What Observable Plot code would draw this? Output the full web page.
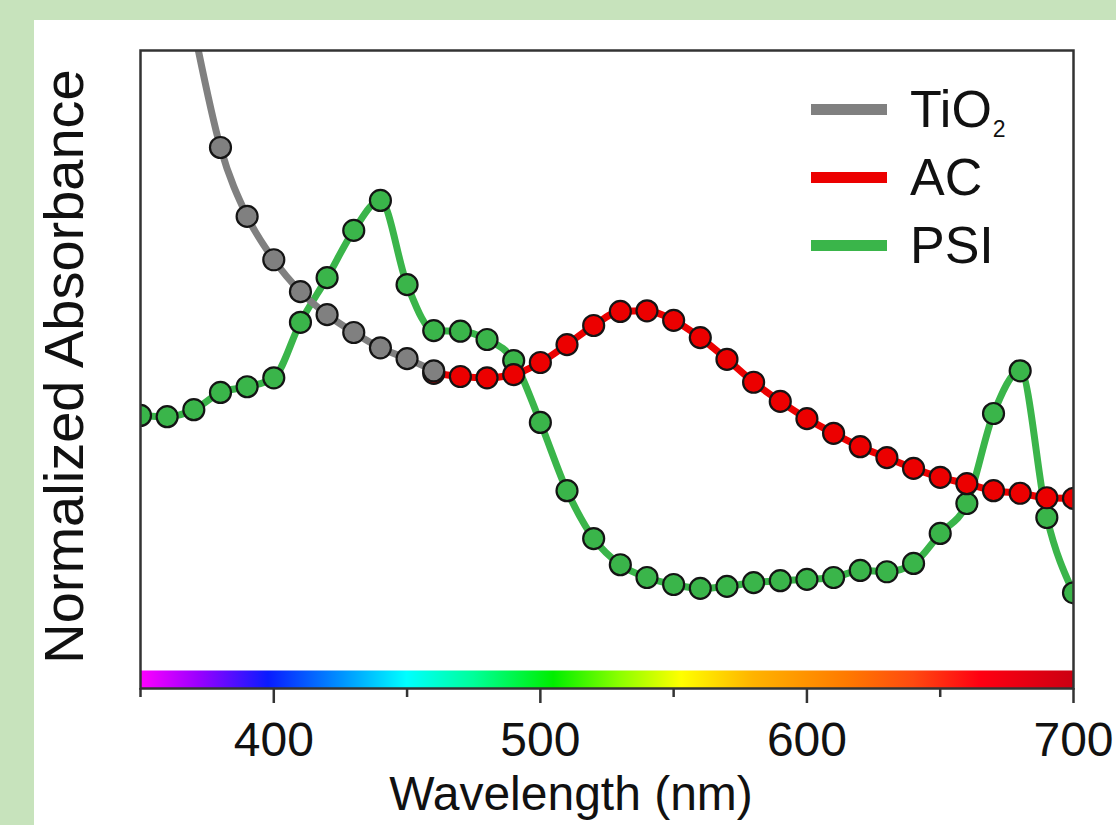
<!DOCTYPE html>
<html>
<head>
<meta charset="utf-8">
<script src="https://cdn.jsdelivr.net/npm/d3@7"></script>
<script src="https://cdn.jsdelivr.net/npm/@observablehq/plot@0.6"></script>
<style>
html, body { margin: 0; padding: 0; width: 1116px; height: 825px; overflow: hidden; background: #c7e3bc; }
#wrap { position: absolute; left: 34px; top: 20px; width: 1082px; height: 805px; background: #ffffff; }
#legend { position: absolute; left: 777px; top: 59px; font-family: "Liberation Sans", Arial, sans-serif; font-size: 52px; color: #111; }
.row { position: absolute; left: 0; height: 60px; line-height: 60px; white-space: nowrap; }
.sw { position: absolute; left: 0; top: 25px; width: 76px; height: 11px; }
.lab { position: absolute; left: 99px; top: 0; }
.sub { font-size: 23px; position: relative; top: 10px; margin-left: 1px; }
</style>
</head>
<body>
<div id="wrap">
  <div id="chart"></div>
  <div id="legend">
    <div class="row" style="top:0px"><div class="sw" style="background:#808080"></div><div class="lab">TiO<span class="sub">2</span></div></div>
    <div class="row" style="top:68px"><div class="sw" style="background:#ec0000"></div><div class="lab">AC</div></div>
    <div class="row" style="top:136px"><div class="sw" style="background:#3ab54a"></div><div class="lab">PSI</div></div>
  </div>
</div>
<script>
// ---- data (normalized absorbance) ----
const tio2Wavelengths = [370, 380, 390, 400, 410, 420, 430, 440, 450, 460];
const tio2Values      = [1.035, 0.848, 0.740, 0.672, 0.622, 0.586, 0.558, 0.534, 0.517, 0.498];

const acWavelengths = [460, 470, 480, 490, 500, 510, 520, 530, 540, 550, 560, 570, 580, 590, 600, 610, 620, 630, 640, 650, 660, 670, 680, 690, 700];
const acValues      = [0.494, 0.489, 0.487, 0.492, 0.511, 0.539, 0.569, 0.591, 0.592, 0.577, 0.550, 0.516, 0.480, 0.450, 0.423, 0.400, 0.379, 0.362, 0.345, 0.331, 0.321, 0.310, 0.306, 0.299, 0.298];

const psiWavelengths = [350, 360, 370, 380, 390, 400, 410, 420, 430, 440, 450, 460, 470, 480, 490, 500, 510, 520, 530, 540, 550, 560, 570, 580, 590, 600, 610, 620, 630, 640, 650, 660, 670, 680, 690, 700];
const psiValues      = [0.428, 0.426, 0.437, 0.464, 0.473, 0.487, 0.574, 0.644, 0.718, 0.765, 0.633, 0.561, 0.560, 0.547, 0.514, 0.417, 0.310, 0.235, 0.194, 0.174, 0.163, 0.157, 0.160, 0.166, 0.169, 0.171, 0.174, 0.185, 0.183, 0.196, 0.243, 0.290, 0.431, 0.498, 0.268, 0.150];

const majorTicks = [400, 500, 600, 700];
const minorTicks = [350, 450, 550, 650];

const spectrumStops = [
  [350, "#ff00ff"], [372, "#9a00ff"], [398, "#0a1cff"], [425, "#0090ff"], [450, "#00ffff"],
  [475, "#00ff9a"], [505, "#00ee00"], [530, "#8cff00"], [553, "#ffff00"], [580, "#ffb300"],
  [615, "#ff7a00"], [640, "#ff4a10"], [665, "#ff0012"], [700, "#cc0012"]
];

const colors = { TiO2: "#808080", AC: "#ec0000", PSI: "#3ab54a" };

const toRows = (ws, vs) => ws.map((w, i) => ({ wl: w, v: vs[i] }));
const tio2 = toRows(tio2Wavelengths, tio2Values);
const ac = toRows(acWavelengths, acValues);
const psi = toRows(psiWavelengths, psiValues);

const seriesMarks = (data, color) => [
  Plot.line(data, { x: "wl", y: "v", stroke: color, strokeWidth: 7, curve: "monotone-x", clip: true }),
  Plot.dot(data, { x: "wl", y: "v", r: 10.5, fill: color, stroke: "#141414", strokeWidth: 2.2, clip: true })
];

const font = "'Liberation Sans', Arial, sans-serif";
const specExtent = d3.extent(spectrumStops, d => d[0]);

const plot = Plot.plot({
  width: 1082,
  height: 805,
  marginLeft: 106,
  marginTop: 30,
  marginRight: 43,
  marginBottom: 137,
  style: { fontFamily: font, background: "#ffffff", overflow: "visible", color: "#111" },
  x: { domain: [350, 700], label: null },
  y: { domain: [0, 1], axis: null },
  marks: [
    Plot.ruleY([0], { x1: () => specExtent[0], x2: () => specExtent[1], stroke: "url(#spectrum)", strokeWidth: 18, dy: -9 }),
    ...seriesMarks(psi, colors.PSI),
    ...seriesMarks(ac, colors.AC),
    ...seriesMarks(tio2, colors.TiO2),
    Plot.axisX(majorTicks, { tickSize: 15, tickFormat: () => "", stroke: "#333", strokeWidth: 2.5 }),
    Plot.axisX(minorTicks, { tickSize: 9, tickFormat: () => "", stroke: "#333", strokeWidth: 2.5 }),
    Plot.text(majorTicks, { x: d => d, frameAnchor: "bottom", lineAnchor: "middle", dy: 52, fontSize: 48, fill: "#111", text: d => String(d) }),
    Plot.text(["Wavelength (nm)"], { frameAnchor: "bottom", lineAnchor: "middle", textAnchor: "middle", dx: -36, dy: 106, fontSize: 48, fill: "#111" }),
    Plot.text(["Normalized Absorbance"], { frameAnchor: "left", textAnchor: "middle", lineAnchor: "middle", rotate: -90, dx: -75, dy: -3, fontSize: 56, fill: "#111" }),
    Plot.frame({ stroke: "#333", strokeWidth: 2.5 })
  ]
});

const xs = plot.scale("x");
const grad = d3.select(plot).insert("defs", ":first-child")
  .append("linearGradient")
  .attr("id", "spectrum")
  .attr("gradientUnits", "userSpaceOnUse")
  .attr("x1", xs.apply(specExtent[0])).attr("x2", xs.apply(specExtent[1]))
  .attr("y1", 0).attr("y2", 0);
spectrumStops.forEach(([w, c]) => {
  grad.append("stop")
    .attr("offset", (w - specExtent[0]) / (specExtent[1] - specExtent[0]))
    .attr("stop-color", c);
});

document.getElementById("chart").appendChild(plot);
</script>
</body>
</html>
